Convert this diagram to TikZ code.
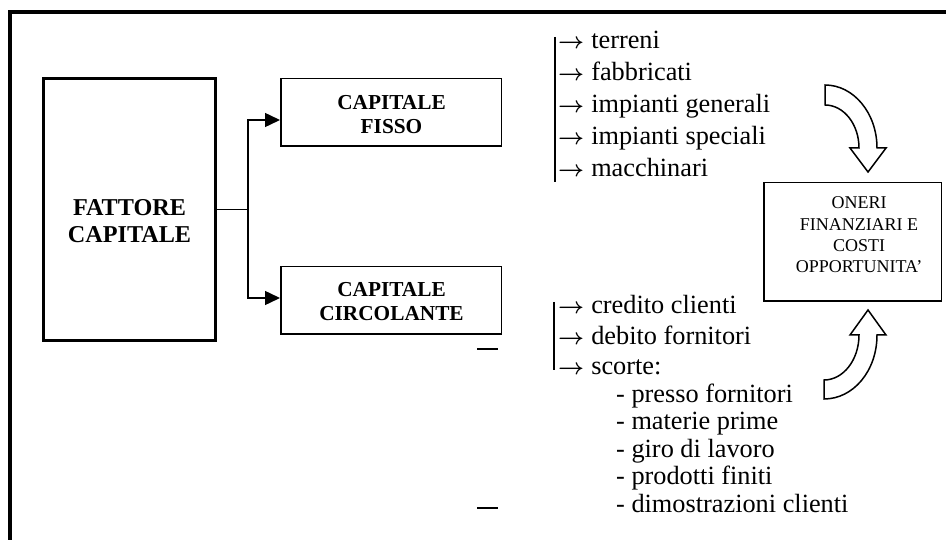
\documentclass[tikz,border=0pt]{standalone}
\usepackage{graphicx}
\usepackage{fontspec}
\setmainfont{Liberation Serif}
\usetikzlibrary{arrows.meta}
\newcommand{\itemarrow}{\makebox[26.5pt][l]{\resizebox{26pt}{!}{\boldmath$\rightarrow$}}}
\begin{document}
\begin{tikzpicture}[x=1pt,y=-1pt,
  frameline/.style={line width=4pt},
  thinline/.style={line width=1.5pt},
  mainbox/.style={draw,line width=3.5pt,minimum width=171.6pt,minimum height=261.6pt,inner sep=0pt},
  subbox/.style={draw,line width=1.5pt,minimum width=220.5pt,minimum height=67.5pt,inner sep=0pt},
  costbox/.style={draw,line width=1.5pt,minimum width=177.5pt,minimum height=118.5pt,inner sep=0pt},
  mainlabel/.style={align=center,inner sep=0pt,font=\fontsize{24.2}{27}\selectfont\bfseries},
  sublabel/.style={align=center,inner sep=0pt,font=\fontsize{21.3}{24}\selectfont\bfseries},
  costlabel/.style={align=center,inner sep=0pt,font=\fontsize{18}{21.3}\selectfont},
  item/.style={anchor=base west,inner sep=0pt,font=\fontsize{26.3}{30}\selectfont},
  conn/.style={line width=1.5pt},
  tipconn/.style={conn,-{Triangle[length=15pt,width=14pt]}},
  blockarrow/.style={draw,line width=1.5pt,line join=miter,fill=white}]

\clip (0,0) rectangle (946,540);

% outer frame, open towards the right and bottom edges
\draw[frameline] (10,560) -- (10,12) -- (960,12);

% boxes
\node[mainbox] (fattore) at (129.5,209.5) {};
\node[mainlabel] (fattoreT) at (129.5,221.5) {FATTORE\\CAPITALE};

\node[subbox] (fisso) at (391,112.5) {};
\node[sublabel] (fissoT) at (391.5,115) {CAPITALE\\FISSO};

\node[subbox] (circ) at (391,300.5) {};
\node[sublabel] (circT) at (391.5,301.5) {CAPITALE\\CIRCOLANTE};

\node[costbox] (oneri) at (852.5,242) {};
\node[costlabel] (oneriT) at (859,235) {ONERI\\FINANZIARI E\\COSTI\\OPPORTUNITA’};

% branching connectors
\draw[conn] (fattore.east) -- (248,209.5) coordinate (fork);
\draw[tipconn] (fork) |- ([yshift=-7.5pt]fisso.west);
\draw[tipconn] (fork) |- ([yshift=2.5pt]circ.west);

% fixed capital items
\draw[thinline] (555,37) -- (555,182);
\node[item] (f1) at (558,48.5) {\itemarrow{} terreni};
\node[item] (f2) at (558,80.6) {\itemarrow{} fabbricati};
\node[item] (f3) at (558,112.7) {\itemarrow{} impianti generali};
\node[item] (f4) at (558,144.8) {\itemarrow{} impianti speciali};
\node[item] (f5) at (558,176.9) {\itemarrow{} macchinari};

% working capital items
\draw[thinline] (554,302) -- (554,370);
\node[item] (c1) at (558,313.5) {\itemarrow{} credito clienti};
\node[item] (c2) at (558,344.5) {\itemarrow{} debito fornitori};
\node[item] (c3) at (558,374.5) {\itemarrow{} scorte:};
\node[item] (s1) at (616,402) {- presso fornitori};
\node[item] (s2) at (616,429.5) {- materie prime};
\node[item] (s3) at (616,457) {- giro di lavoro};
\node[item] (s4) at (616,484.5) {- prodotti finiti};
\node[item] (s5) at (616,512) {- dimostrazioni clienti};

% short rules
\draw[thinline] (477,349) -- (498,349);
\draw[thinline] (477,508) -- (498,508);

% curved block arrow pointing down into the cost box
\path[blockarrow] (825,85) .. controls (853.7,85) and (877,113.2) .. (877,148)
  -- (886,148) -- (868,172) -- (850,148) -- (859,148)
  .. controls (859,124.3) and (843.8,105) .. (825,105) -- cycle;

% curved block arrow pointing up into the cost box
\path[blockarrow] (877,335) .. controls (877,370.9) and (853.3,399) .. (824,399)
  -- (824,380) .. controls (843.3,380) and (859,359.8) .. (859,335)
  -- (850,335) -- (868,310) -- (886,335) -- cycle;

\end{tikzpicture}
\end{document}
